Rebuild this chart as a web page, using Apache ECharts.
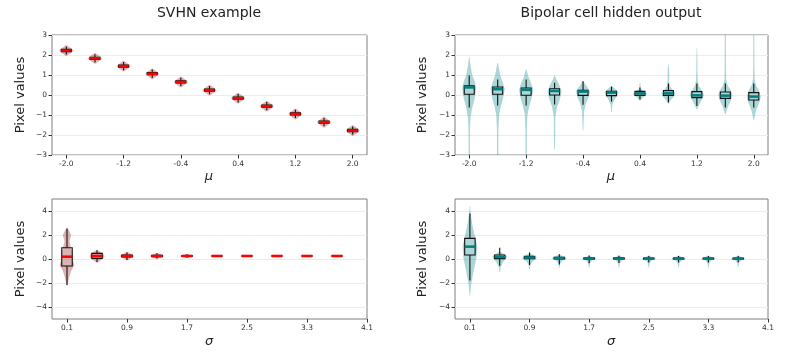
<!DOCTYPE html>
<html>
<head>
<meta charset="utf-8">
<script src="https://cdn.jsdelivr.net/npm/echarts@6/dist/echarts.min.js"></script>
<style>html,body{margin:0;padding:0;background:#fff;}#c{width:789px;height:356px;}</style>
</head>
<body>
<div id="c"></div>
<script>
// ---- categories / ticks ----
const muCategories = [-2.0, -1.6, -1.2, -0.8, -0.4, 0.0, 0.4, 0.8, 1.2, 1.6, 2.0];
const sigmaCategories = [0.1, 0.5, 0.9, 1.3, 1.7, 2.1, 2.5, 2.9, 3.3, 3.7];
const muTickLabels = [-2.0, -1.2, -0.4, 0.4, 1.2, 2.0];
const sigmaTickLabels = [0.1, 0.9, 1.7, 2.5, 3.3, 4.1];
const muYTicks = [-3, -2, -1, 0, 1, 2, 3];
const sigmaYTicks = [-4, -2, 0, 2, 4];

// ---- box stats: [lowWhisker, q1, median, q3, highWhisker] ----
const svhnMuBoxes = [
  [2.02, 2.17, 2.22, 2.28, 2.43], [1.63, 1.78, 1.83, 1.89, 2.04], [1.24, 1.39, 1.44, 1.50, 1.65],
  [0.85, 1.01, 1.06, 1.12, 1.27], [0.45, 0.60, 0.65, 0.71, 0.86], [0.04, 0.19, 0.24, 0.30, 0.45],
  [-0.37, -0.21, -0.16, -0.10, 0.05], [-0.76, -0.61, -0.56, -0.50, -0.35], [-1.15, -1.00, -0.95, -0.89, -0.74],
  [-1.56, -1.41, -1.36, -1.30, -1.15], [-1.98, -1.83, -1.78, -1.72, -1.57]
];
const bipolarMuBoxes = [
  [-0.63, 0.04, 0.38, 0.46, 0.97], [-0.53, 0.04, 0.29, 0.40, 0.78], [-0.53, -0.01, 0.26, 0.35, 0.77],
  [-0.48, 0.00, 0.20, 0.31, 0.61], [-0.49, -0.02, 0.17, 0.24, 0.69], [-0.33, -0.03, 0.12, 0.19, 0.42],
  [-0.22, -0.02, 0.08, 0.18, 0.37], [-0.38, -0.02, 0.08, 0.22, 0.58], [-0.55, -0.13, -0.02, 0.17, 0.58],
  [-0.63, -0.17, -0.03, 0.15, 0.58], [-0.63, -0.25, -0.08, 0.12, 0.58]
];
const svhnSigmaBoxes = [
  [-2.17, -0.58, 0.19, 0.94, 2.55], [-0.25, 0.05, 0.25, 0.47, 0.72], [-0.08, 0.17, 0.25, 0.33, 0.55],
  [0.05, 0.20, 0.25, 0.30, 0.47], [0.10, 0.22, 0.25, 0.28, 0.40], [0.22, 0.24, 0.25, 0.26, 0.28],
  [0.22, 0.24, 0.25, 0.26, 0.28], [0.22, 0.24, 0.25, 0.26, 0.28], [0.22, 0.24, 0.25, 0.26, 0.28],
  [0.22, 0.24, 0.25, 0.26, 0.28]
];
const bipolarSigmaBoxes = [
  [-1.80, 0.33, 1.03, 1.72, 3.80], [-0.56, 0.03, 0.17, 0.33, 0.94], [-0.50, 0.03, 0.12, 0.22, 0.55],
  [-0.45, 0.00, 0.07, 0.15, 0.39], [-0.35, -0.02, 0.04, 0.10, 0.30], [-0.33, -0.02, 0.03, 0.09, 0.28],
  [-0.30, -0.01, 0.03, 0.08, 0.25], [-0.30, -0.01, 0.03, 0.08, 0.25], [-0.30, -0.01, 0.03, 0.08, 0.25],
  [-0.28, -0.01, 0.03, 0.07, 0.24]
];

// ---- violin density profiles: [y, relative density] ----
const svhnMuViolins = [
  [[1.95, 0.05], [2.08, 0.55], [2.22, 1], [2.36, 0.55], [2.49, 0.05]],
  [[1.56, 0.05], [1.69, 0.55], [1.83, 1], [1.97, 0.55], [2.10, 0.05]],
  [[1.17, 0.05], [1.30, 0.55], [1.44, 1], [1.58, 0.55], [1.71, 0.05]],
  [[0.79, 0.05], [0.92, 0.55], [1.06, 1], [1.20, 0.55], [1.33, 0.05]],
  [[0.38, 0.05], [0.51, 0.55], [0.65, 1], [0.79, 0.55], [0.92, 0.05]],
  [[-0.03, 0.05], [0.10, 0.55], [0.24, 1], [0.38, 0.55], [0.51, 0.05]],
  [[-0.43, 0.05], [-0.30, 0.55], [-0.16, 1], [-0.02, 0.55], [0.11, 0.05]],
  [[-0.83, 0.05], [-0.70, 0.55], [-0.56, 1], [-0.42, 0.55], [-0.29, 0.05]],
  [[-1.22, 0.05], [-1.09, 0.55], [-0.95, 1], [-0.81, 0.55], [-0.68, 0.05]],
  [[-1.63, 0.05], [-1.50, 0.55], [-1.36, 1], [-1.22, 0.55], [-1.09, 0.05]],
  [[-2.05, 0.05], [-1.92, 0.55], [-1.78, 1], [-1.64, 0.55], [-1.51, 0.05]]
];
const bipolarMuViolins = [
  [[-3.6, 0.09], [-1.8, 0.1], [-1.1, 0.18], [-0.6, 0.45], [-0.2, 0.75], [0.35, 1.0], [0.7, 0.75], [1.0, 0.42], [1.4, 0.22], [1.7, 0.1], [1.9, 0.03]],
  [[-3.6, 0.09], [-1.8, 0.1], [-1.0, 0.2], [-0.55, 0.45], [-0.2, 0.75], [0.3, 1.0], [0.65, 0.7], [1.0, 0.35], [1.3, 0.2], [1.6, 0.05]],
  [[-3.6, 0.09], [-1.8, 0.1], [-1.0, 0.18], [-0.55, 0.45], [-0.2, 0.75], [0.25, 1.0], [0.6, 0.7], [0.9, 0.33], [1.1, 0.18], [1.28, 0.04]],
  [[-2.72, 0.05], [-2.2, 0.09], [-1.1, 0.11], [-0.6, 0.35], [-0.2, 0.75], [0.2, 1.0], [0.5, 0.65], [0.75, 0.3], [0.98, 0.04]],
  [[-1.78, 0.05], [-1.3, 0.09], [-0.8, 0.15], [-0.4, 0.42], [-0.1, 0.8], [0.17, 1.0], [0.4, 0.6], [0.6, 0.2], [0.7, 0.04]],
  [[-0.85, 0.04], [-0.5, 0.12], [-0.25, 0.4], [0.0, 0.85], [0.12, 1.0], [0.3, 0.55], [0.45, 0.05]],
  [[-0.27, 0.04], [-0.15, 0.35], [0.0, 0.85], [0.08, 1.0], [0.18, 0.6], [0.3, 0.15], [0.45, 0.07], [0.68, 0.03]],
  [[-0.42, 0.04], [-0.25, 0.35], [-0.05, 0.85], [0.08, 1.0], [0.25, 0.6], [0.45, 0.2], [0.7, 0.1], [1.1, 0.12], [1.35, 0.08], [1.53, 0.02]],
  [[-0.72, 0.04], [-0.5, 0.3], [-0.2, 0.75], [0.0, 1.0], [0.2, 0.75], [0.45, 0.3], [0.7, 0.12], [1.2, 0.08], [1.8, 0.07], [2.37, 0.02]],
  [[-0.97, 0.04], [-0.6, 0.35], [-0.25, 0.8], [0.0, 1.0], [0.25, 0.75], [0.5, 0.3], [0.8, 0.12], [1.5, 0.09], [2.5, 0.08], [3.5, 0.07]],
  [[-1.25, 0.04], [-0.8, 0.3], [-0.4, 0.75], [-0.1, 1.0], [0.2, 0.75], [0.5, 0.3], [0.8, 0.12], [1.5, 0.08], [2.5, 0.07], [3.5, 0.07]]
];
const svhnSigmaViolins = [
  [[-2.25, 0.03], [-2.0, 0.1], [-1.5, 0.3], [-1.0, 0.55], [-0.5, 1.0], [-0.1, 0.75], [0.2, 0.72], [0.5, 0.8], [0.9, 0.55], [1.45, 0.33], [2.0, 0.55], [2.3, 0.35], [2.6, 0.03]],
  [[-0.32, 0.05], [-0.1, 0.5], [0.1, 0.9], [0.25, 1.0], [0.45, 0.8], [0.6, 0.45], [0.75, 0.05]],
  [[-0.12, 0.05], [0.1, 0.6], [0.25, 1.0], [0.4, 0.6], [0.6, 0.05]],
  [[0.0, 0.05], [0.15, 0.6], [0.25, 1.0], [0.35, 0.6], [0.5, 0.05]],
  [[0.08, 0.05], [0.18, 0.6], [0.25, 1.0], [0.32, 0.6], [0.42, 0.05]],
  [[0.18, 0.05], [0.22, 0.6], [0.25, 1.0], [0.28, 0.6], [0.32, 0.05]],
  [[0.18, 0.05], [0.22, 0.6], [0.25, 1.0], [0.28, 0.6], [0.32, 0.05]],
  [[0.18, 0.05], [0.22, 0.6], [0.25, 1.0], [0.28, 0.6], [0.32, 0.05]],
  [[0.18, 0.05], [0.22, 0.6], [0.25, 1.0], [0.28, 0.6], [0.32, 0.05]],
  [[0.18, 0.05], [0.22, 0.6], [0.25, 1.0], [0.28, 0.6], [0.32, 0.05]]
];
const bipolarSigmaViolins = [
  [[-3.06, 0.04], [-2.5, 0.12], [-2.0, 0.2], [-1.0, 0.5], [0.0, 0.85], [1.0, 1.0], [2.0, 0.65], [2.5, 0.45], [3.0, 0.3], [3.6, 0.15], [4.0, 0.08], [4.42, 0.03]],
  [[-1.1, 0.05], [-0.7, 0.12], [-0.3, 0.4], [0.0, 0.8], [0.2, 1.0], [0.4, 0.6], [0.6, 0.08]],
  [[-0.83, 0.05], [-0.5, 0.12], [-0.2, 0.4], [0.05, 0.9], [0.12, 1.0], [0.3, 0.5], [0.5, 0.05]],
  [[-0.72, 0.05], [-0.4, 0.12], [-0.15, 0.4], [0.0, 0.9], [0.07, 1.0], [0.2, 0.5], [0.4, 0.05]],
  [[-0.7, 0.05], [-0.35, 0.12], [-0.12, 0.4], [0.0, 0.9], [0.04, 1.0], [0.15, 0.5], [0.3, 0.05]],
  [[-0.7, 0.05], [-0.35, 0.12], [-0.12, 0.4], [0.0, 0.9], [0.03, 1.0], [0.15, 0.5], [0.3, 0.05]],
  [[-0.7, 0.05], [-0.35, 0.12], [-0.12, 0.4], [0.0, 0.9], [0.03, 1.0], [0.15, 0.5], [0.3, 0.05]],
  [[-0.7, 0.05], [-0.35, 0.12], [-0.12, 0.4], [0.0, 0.9], [0.03, 1.0], [0.15, 0.5], [0.3, 0.05]],
  [[-0.7, 0.05], [-0.35, 0.12], [-0.12, 0.4], [0.0, 0.9], [0.03, 1.0], [0.15, 0.5], [0.3, 0.05]],
  [[-0.7, 0.05], [-0.35, 0.12], [-0.12, 0.4], [0.0, 0.9], [0.03, 1.0], [0.15, 0.5], [0.3, 0.05]]
];

// ---- styling ----
const FONT = 'DejaVu Sans';
const RED_FILL = 'rgba(139,0,0,0.3)';
const TEAL_FILL = 'rgba(0,128,128,0.32)';
const RED_MED = '#ff0000';
const TEAL_MED = '#008080';
const VIOLIN_HALF = 0.1;   // in x data units (step 0.4 -> 0.25 of a slot)
const BOX_HALF = 0.07;

const grids = [
  { left: 52, top: 35, width: 315, height: 120 },
  { left: 455, top: 35, width: 313, height: 120 },
  { left: 52, top: 199, width: 315, height: 120 },
  { left: 455, top: 199, width: 313, height: 120 }
].map(g => Object.assign(g, { show: true, borderColor: '#7f7f7f', borderWidth: 1, backgroundColor: 'transparent' }));

const minusFmt = v => (v < 0 ? '\u2212' + Math.abs(v) : String(v));

function xAxisDef(gi, isMu) {
  const ticks = isMu ? muTickLabels : sigmaTickLabels;
  return {
    type: 'value', gridIndex: gi, position: 'bottom',
    min: isMu ? -2.2 : -0.1, max: isMu ? 2.2 : 4.1,
    axisLine: { show: false, onZero: false },
    splitLine: { show: false },
    axisTick: { show: true, customValues: ticks, length: 3.5, lineStyle: { color: '#333', width: 1 } },
    axisLabel: { customValues: ticks, formatter: v => Number(v).toFixed(1), fontFamily: FONT, fontSize: 7.5, color: '#333', margin: 5 }
  };
}
function yAxisDef(gi, isMu) {
  const ticks = isMu ? muYTicks : sigmaYTicks;
  return {
    type: 'value', gridIndex: gi, position: 'left',
    min: isMu ? -3 : -5, max: isMu ? 3 : 5,
    axisLine: { show: false, onZero: false },
    splitLine: { show: true, lineStyle: { color: '#ececec', width: 1 } },
    axisTick: { show: true, customValues: ticks, length: 3.5, lineStyle: { color: '#333', width: 1 } },
    axisLabel: { customValues: ticks, formatter: minusFmt, fontFamily: FONT, fontSize: 7.5, color: '#333', margin: 5 }
  };
}

function violinSeries(ai, xs, boxes, profiles, fill) {
  return {
    type: 'custom', xAxisIndex: ai, yAxisIndex: ai, clip: true, z: 2, silent: true,
    data: xs.map((x, i) => [x, boxes[i][2]]),
    encode: { x: 0, y: 1 },
    renderItem: function (params, api) {
      const i = params.dataIndex, x = api.value(0);
      const prof = profiles[i];
      const right = prof.map(p => api.coord([x + VIOLIN_HALF * p[1], p[0]]));
      const left = prof.slice().reverse().map(p => api.coord([x - VIOLIN_HALF * p[1], p[0]]));
      return {
        type: 'polygon',
        shape: { points: right.concat(left) },
        style: { fill: fill, stroke: 'transparent', lineWidth: 0 }
      };
    }
  };
}
function boxSeries(ai, xs, boxes, medColor) {
  return {
    type: 'custom', xAxisIndex: ai, yAxisIndex: ai, clip: true, z: 3, silent: true,
    data: xs.map((x, i) => [x, boxes[i][2]]),
    encode: { x: 0, y: 1 },
    renderItem: function (params, api) {
      const i = params.dataIndex, x = api.value(0);
      const b = boxes[i];
      const pLo = api.coord([x, b[0]]), pQ1 = api.coord([x, b[1]]), pMed = api.coord([x, b[2]]);
      const pQ3 = api.coord([x, b[3]]), pHi = api.coord([x, b[4]]);
      const xl = api.coord([x - BOX_HALF, b[2]])[0], xr = api.coord([x + BOX_HALF, b[2]])[0];
      const lineStyle = { stroke: '#111', lineWidth: 1.1, fill: 'transparent' };
      return {
        type: 'group',
        children: [
          { type: 'line', shape: { x1: pQ1[0], y1: pQ1[1], x2: pLo[0], y2: pLo[1] }, style: lineStyle },
          { type: 'line', shape: { x1: pQ3[0], y1: pQ3[1], x2: pHi[0], y2: pHi[1] }, style: lineStyle },
          { type: 'rect', shape: { x: xl, y: pQ3[1], width: xr - xl, height: pQ1[1] - pQ3[1] },
            style: { fill: 'transparent', stroke: '#111', lineWidth: 1.1 } },
          { type: 'line', shape: { x1: xl, y1: pMed[1], x2: xr, y2: pMed[1] },
            style: { stroke: medColor, lineWidth: 2.6, fill: 'transparent' } }
        ]
      };
    }
  };
}

function txt(x, y, text, size, extra) {
  return {
    type: 'text', x: x, y: y, silent: true,
    style: Object.assign({ text: text, fontFamily: FONT, fontSize: size, fill: '#222', align: 'center', verticalAlign: 'middle' }, extra || {})
  };
}

const chart = echarts.init(document.getElementById('c'), null, { renderer: 'canvas' });
chart.setOption({
  animation: false,
  backgroundColor: '#fff',
  grid: grids,
  xAxis: [xAxisDef(0, true), xAxisDef(1, true), xAxisDef(2, false), xAxisDef(3, false)],
  yAxis: [yAxisDef(0, true), yAxisDef(1, true), yAxisDef(2, false), yAxisDef(3, false)],
  series: [
    violinSeries(0, muCategories, svhnMuBoxes, svhnMuViolins, RED_FILL),
    boxSeries(0, muCategories, svhnMuBoxes, RED_MED),
    violinSeries(1, muCategories, bipolarMuBoxes, bipolarMuViolins, TEAL_FILL),
    boxSeries(1, muCategories, bipolarMuBoxes, TEAL_MED),
    violinSeries(2, sigmaCategories, svhnSigmaBoxes, svhnSigmaViolins, RED_FILL),
    boxSeries(2, sigmaCategories, svhnSigmaBoxes, RED_MED),
    violinSeries(3, sigmaCategories, bipolarSigmaBoxes, bipolarSigmaViolins, TEAL_FILL),
    boxSeries(3, sigmaCategories, bipolarSigmaBoxes, TEAL_MED)
  ],
  graphic: [
    txt(209, 13, 'SVHN example', 14),
    txt(611, 13, 'Bipolar cell hidden output', 14),
    txt(209, 177, '\u03bc', 13, { fontStyle: 'italic' }),
    txt(611, 177, '\u03bc', 13, { fontStyle: 'italic' }),
    txt(209, 342, '\u03c3', 13, { fontStyle: 'italic' }),
    txt(611, 342, '\u03c3', 13, { fontStyle: 'italic' }),
    Object.assign(txt(21, 95, 'Pixel values', 13), { rotation: Math.PI / 2 }),
    Object.assign(txt(423, 95, 'Pixel values', 13), { rotation: Math.PI / 2 }),
    Object.assign(txt(21, 259, 'Pixel values', 13), { rotation: Math.PI / 2 }),
    Object.assign(txt(423, 259, 'Pixel values', 13), { rotation: Math.PI / 2 })
  ]
});
</script>
</body>
</html>
